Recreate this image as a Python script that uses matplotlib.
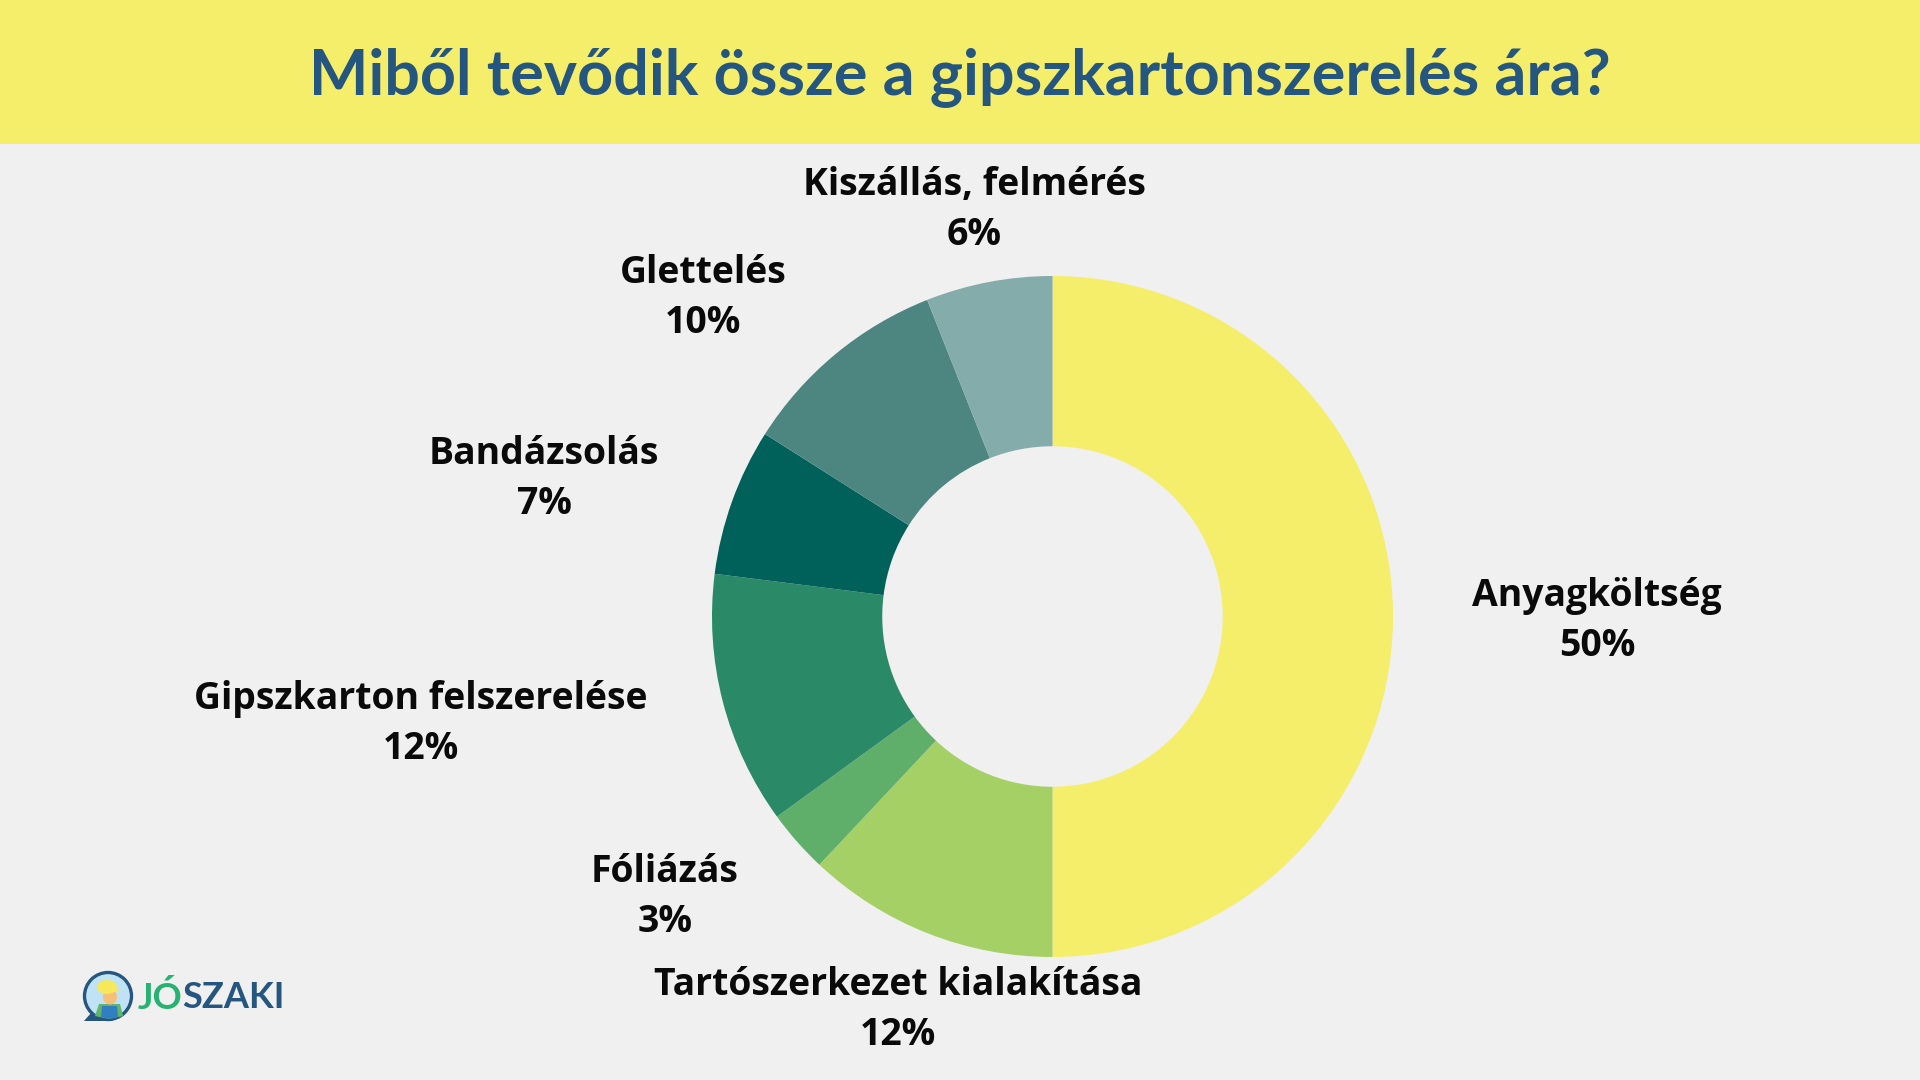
import matplotlib
matplotlib.use("Agg")
import matplotlib.pyplot as plt
from matplotlib.patches import Rectangle, Circle, Polygon, Ellipse

title = "Miből tevődik össze a gipszkartonszerelés ára?"
categories = ["Anyagköltség", "Tartószerkezet kialakítása", "Fóliázás",
              "Gipszkarton felszerelése", "Bandázsolás", "Glettelés", "Kiszállás, felmérés"]
values = [50, 12, 3, 12, 7, 10, 6]
colors = ["#F5EE6A", "#A5D066", "#5FAF6B", "#2A8A68", "#00605A", "#4D8680", "#84ACAB"]
label_px = [(1597, 621), (898, 1010), (665, 897), (421, 724), (544, 479), (703, 298), (974, 210)]

W, H = 1920, 1080
BG = "#F0F0F0"
fig = plt.figure(figsize=(W / 100, H / 100), dpi=100, facecolor=BG)
bgax = fig.add_axes([0, 0, 1, 1])
bgax.set_xlim(0, W); bgax.set_ylim(H, 0); bgax.axis("off")
bgax.add_patch(Rectangle((0, 0), W, 144, fc="#F5EE6A", ec="none"))
bgax.text(960, 77, title, ha="center", va="center", fontsize=45.3, color="#24567F",
          family="Lato", fontweight="bold")

cx, cy, r = 1052.5, 616.5, 340.5
pie_ax = fig.add_axes([(cx - r) / W, 1 - (cy + r) / H, 2 * r / W, 2 * r / H])
pie_ax.pie(values, colors=colors, startangle=90, counterclock=False, radius=1,
           wedgeprops=dict(width=0.5, linewidth=0))
pie_ax.set_xlim(-1, 1); pie_ax.set_ylim(-1, 1); pie_ax.axis("off")

for name, val, (x, y) in zip(categories, values, label_px):
    bgax.text(x, y, f"{name}\n{val}%", ha="center", va="center", fontsize=26.9,
              family="Open Sans", fontweight="bold", color="#0A0A0A",
              linespacing=1.41)

# Logo
bgax.add_patch(Polygon([(84, 1021), (113, 1021), (99, 1004)], fc="#24567F", ec="none"))
bgax.add_patch(Circle((108, 996), 23.5, fc="#BFE3F4", ec="#24567F", lw=2.4))
bgax.add_patch(Polygon([(95, 1016), (99, 1004), (120, 1004), (123, 1016), (109, 1019)],
                       fc="#5FB56B", ec="none"))
bgax.add_patch(Polygon([(101, 1017), (102, 1006), (117, 1006), (118, 1017), (109, 1019)],
                       fc="#2F7FC1", ec="none"))
bgax.add_patch(Ellipse((110, 997), 14, 15, fc="#F7BE7A", ec="none"))
bgax.add_patch(Ellipse((107, 987), 20, 14, fc="#F5E85A", ec="none"))
bgax.add_patch(Polygon([(109, 988), (121, 991), (109, 993)], fc="#F5E85A", ec="none"))
bgax.text(138, 998, "JÓ", ha="left", va="center", fontsize=26, color="#27B273",
          family="Lato", fontweight="bold")
bgax.text(182, 998, "SZAKI", ha="left", va="center", fontsize=26, color="#24567F",
          family="Lato", fontweight="bold")

fig.savefig("out.png", dpi=100, facecolor=BG)
